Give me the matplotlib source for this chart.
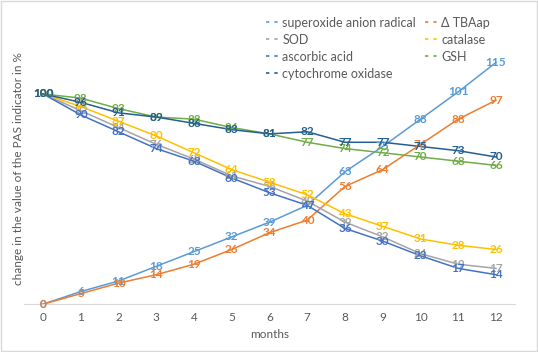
import numpy as np
import matplotlib.pyplot as plt
from matplotlib.lines import Line2D

plt.rcParams['font.family'] = ['Lato', 'DejaVu Sans']

# dados
months = list(range(13))
superoxide = [0, 6, 11, 18, 25, 32, 39, 47, 63, 75, 88, 101, 115]
tbaap = [0, 5, 10, 14, 19, 26, 34, 40, 56, 64, 76, 88, 97]
sod = [100, 92, 84, 76, 69, 61, 56, 49, 39, 32, 24, 19, 17]
catalase = [100, 94, 87, 80, 72, 64, 58, 52, 43, 37, 31, 28, 26]
ascorbic = [100, 90, 82, 74, 68, 60, 53, 47, 36, 30, 23, 17, 14]
gsh = [100, 98, 93, 89, 88, 84, 81, 77, 74, 72, 70, 68, 66]
cytochrome = [100, 96, 91, 89, 86, 83, 81, 82, 77, 77, 75, 73, 70]

series = [
    ('superoxide anion radical', superoxide, '#5B9BD5'),
    ('Δ TBAap', tbaap, '#ED7D31'),
    ('SOD', sod, '#A5A5A5'),
    ('catalase', catalase, '#FFC000'),
    ('ascorbic acid', ascorbic, '#4472C4'),
    ('GSH', gsh, '#70AD47'),
    ('cytochrome oxidase', cytochrome, '#255E91'),
]

fig = plt.figure(figsize=(5.38, 3.52), dpi=100)
ax = fig.add_axes([0.045, 0.136, 0.912, 0.836])

for name, vals, cor in series:
    ax.plot(months, vals, color=cor, lw=1.1)
    for x, v in zip(months, vals):
        ax.text(x, v, str(v), color=cor, fontsize=8.5, fontweight='bold',
                ha='center', va='center')

ax.set_xlim(-0.5, 12.5)
ax.set_ylim(0, 140)
ax.set_xticks(months)
ax.set_yticks([])
for s in ['top', 'right', 'left']:
    ax.spines[s].set_visible(False)
ax.spines['bottom'].set_color('#D9D9D9')
ax.tick_params(axis='x', length=0, colors='#595959', labelsize=8.5, pad=6)
ax.set_xlabel('months', color='#595959', fontsize=8.5, labelpad=4)
fig.text(0.034, 0.52, 'change in the value of the PAS indicator in %',
         rotation=90, color='#595959', fontsize=8.5, ha='center', va='center')

# legenda preenchida por linhas, como no Excel
ordem = [0, 2, 4, 6, 1, 3, 5]
handles = [Line2D([0], [0], color=series[i][2], lw=1.2, linestyle=(0, (2, 3))) for i in ordem]
labels = [series[i][0] for i in ordem]
leg = ax.legend(handles, labels, ncol=2, loc='upper left', bbox_to_anchor=(0.47, 1.015),
                frameon=False, fontsize=9, handlelength=1.1, handletextpad=0.2,
                columnspacing=0.7, labelspacing=0.4, labelcolor='#595959')

fig.patches.append(plt.Rectangle((0.002, 0.003), 0.996, 0.994, transform=fig.transFigure,
                                 fill=False, edgecolor='#D9D9D9', lw=1))

fig.savefig('out.png', dpi=100)
